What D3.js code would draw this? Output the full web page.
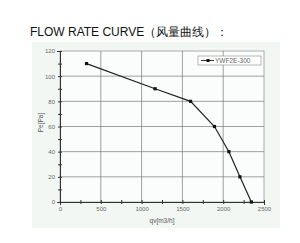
<!DOCTYPE html>
<html>
<head>
<meta charset="utf-8">
<script src="https://cdn.jsdelivr.net/npm/d3@7"></script>
<style>
  body { margin: 0; background: #fff; }
  text { font-family: "Liberation Sans", Arial, sans-serif; }
</style>
</head>
<body>
<div id="chart"></div>
<script>
// flow (m3/h) vs pressure (Pa)
const flow = [325, 1165, 1600, 1893, 2070, 2205, 2345];
const pressure = [110, 90, 80, 60, 40, 20, 0];
const xTicks = [0, 500, 1000, 1500, 2000, 2500];
const yTicks = [0, 20, 40, 60, 80, 100, 120];
const seriesName = "YWF2E-300";

const W = 300, H = 243;
const margin = { top: 51, right: 36, bottom: 41, left: 60 };
const width = W - margin.left - margin.right;
const height = H - margin.top - margin.bottom;

const svg = d3.select("#chart").append("svg")
  .attr("width", W)
  .attr("height", H);

// title
svg.append("text")
  .attr("x", 30)
  .attr("y", 36)
  .style("font-size", "12px")
  .style("fill", "#111")
  .text("FLOW RATE CURVE（风量曲线）：");

// light panel behind chart
svg.append("rect")
  .attr("x", 32).attr("y", 42)
  .attr("width", 248).attr("height", 186)
  .attr("fill", "#f2f7f4");

const g = svg.append("g")
  .attr("transform", `translate(${margin.left}, ${margin.top})`);

g.append("rect")
  .attr("width", width).attr("height", height)
  .attr("fill", "#fbfdfc")
  .attr("stroke", "#999")
  .attr("stroke-width", 0.8);

const x = d3.scaleLinear().domain([0, 2500]).range([0, width]);
const y = d3.scaleLinear().domain([0, 120]).range([height, 0]);

// grid
g.append("g")
  .selectAll("line")
  .data(xTicks.slice(1, -1))
  .join("line")
  .attr("x1", d => x(d)).attr("x2", d => x(d))
  .attr("y1", 0).attr("y2", height)
  .attr("stroke", "#777").attr("stroke-width", 0.7);

g.append("g")
  .selectAll("line")
  .data(yTicks.slice(1, -1))
  .join("line")
  .attr("y1", d => y(d)).attr("y2", d => y(d))
  .attr("x1", 0).attr("x2", width)
  .attr("stroke", "#777").attr("stroke-width", 0.7);

// axes
const xAxis = g.append("g")
  .attr("transform", `translate(0, ${height})`)
  .call(d3.axisBottom(x).tickValues(d3.range(0, 2501, 250))
    .tickSize(3)
    .tickFormat(d => xTicks.includes(d) ? d : ""));
xAxis.selectAll(".tick line").attr("y1", -2).attr("y2", 2).attr("stroke", "#333");
xAxis.select(".domain").attr("stroke", "#333");
xAxis.selectAll("text").attr("dy", "0.5em").style("font-size", "6px").style("fill", "#666");

const yAxis = g.append("g")
  .call(d3.axisLeft(y).tickValues(d3.range(0, 121, 10))
    .tickSize(3)
    .tickFormat(d => yTicks.includes(d) ? d : ""));
yAxis.selectAll(".tick line").attr("x1", -2).attr("x2", 2).attr("stroke", "#333");
yAxis.select(".domain").attr("stroke", "#333");
yAxis.selectAll("text").attr("x", -5).style("font-size", "6px").style("fill", "#666");

// axis titles
g.append("text")
  .attr("x", width / 2)
  .attr("y", height + 21)
  .attr("text-anchor", "middle")
  .style("font-size", "6.5px")
  .style("fill", "#555")
  .text("qv[m3/h]");

g.append("text")
  .attr("transform", "rotate(-90)")
  .attr("x", -height / 2 + 4)
  .attr("y", -17)
  .attr("text-anchor", "middle")
  .style("font-size", "6.5px")
  .style("fill", "#555")
  .text("Pe[Pa]");

// curve
const pts = flow.map((f, i) => [f, pressure[i]]);
g.append("path")
  .datum(pts)
  .attr("fill", "none")
  .attr("stroke", "#222")
  .attr("stroke-width", 1.2)
  .attr("d", d3.line().x(d => x(d[0])).y(d => y(d[1])));

g.selectAll(".pt")
  .data(pts)
  .join("rect")
  .attr("class", "pt")
  .attr("x", d => x(d[0]) - 1.6)
  .attr("y", d => y(d[1]) - 1.6)
  .attr("width", 3.2).attr("height", 3.2)
  .attr("fill", "#111");

// legend
const lg = g.append("g").attr("transform", `translate(${width - 66}, 5)`);
lg.append("rect")
  .attr("width", 63).attr("height", 9)
  .attr("fill", "#fff")
  .attr("stroke", "#888").attr("stroke-width", 0.6);
lg.append("line")
  .attr("x1", 3).attr("x2", 16).attr("y1", 4.5).attr("y2", 4.5)
  .attr("stroke", "#333").attr("stroke-width", 1);
lg.append("rect")
  .attr("x", 8.5).attr("y", 3).attr("width", 3).attr("height", 3)
  .attr("fill", "#111");
lg.append("text")
  .attr("x", 17).attr("y", 7)
  .style("font-size", "6.5px")
  .style("fill", "#666")
  .text(seriesName);
</script>
</body>
</html>
